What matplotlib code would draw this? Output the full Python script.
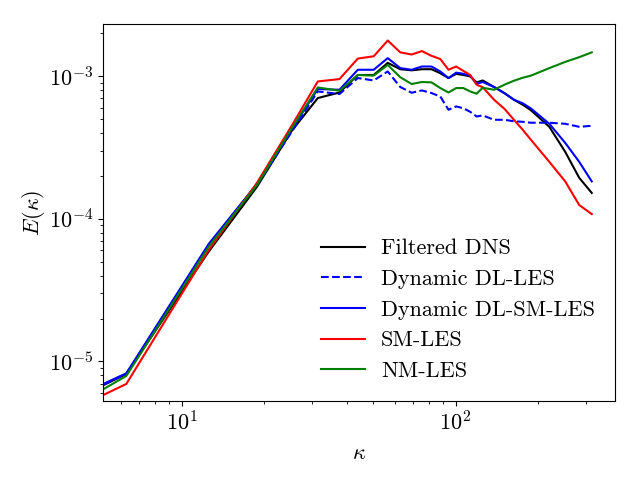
import numpy as np
import matplotlib
matplotlib.use("Agg")
import matplotlib.pyplot as plt

plt.rcParams['font.family'] = 'serif'
plt.rcParams['font.serif'] = ['cmr10']
plt.rcParams['mathtext.fontset'] = 'cm'
plt.rcParams['axes.formatter.use_mathtext'] = True
plt.rcParams['font.size'] = 16

# wavenumbers: first point, then 2*pi*n
n_index = [0.5, 1, 2, 3, 4, 5, 6, 7, 8, 9, 10, 11, 12, 13, 14, 15, 16, 17, 18, 19, 20,
           22, 24, 26, 28, 30, 35, 40, 45, 50]
kappa = [2 * np.pi * n for n in n_index]

filtered_dns = [4.26e-6, 8.17e-6, 5.90e-5, 1.68e-4, 4.10e-4, 7.03e-4, 7.69e-4, 1.02e-3, 1.02e-3,
                1.24e-3, 1.12e-3, 1.10e-3, 1.12e-3, 1.12e-3, 1.05e-3, 9.71e-4, 1.04e-3, 1.02e-3,
                9.97e-4, 9.05e-4, 9.34e-4, 8.40e-4, 7.62e-4, 6.84e-4, 6.31e-4, 5.77e-4, 4.42e-4,
                2.95e-4, 1.94e-4, 1.52e-4]
dyn_dl_les = [4.40e-6, 8.17e-6, 6.57e-5, 1.73e-4, 4.03e-4, 7.82e-4, 7.50e-4, 9.71e-4, 9.34e-4,
              1.08e-3, 8.40e-4, 7.66e-4, 7.95e-4, 7.62e-4, 7.21e-4, 5.82e-4, 6.14e-4, 5.96e-4,
              5.63e-4, 5.22e-4, 5.31e-4, 4.95e-4, 4.95e-4, 4.83e-4, 4.79e-4, 4.72e-4, 4.72e-4,
              4.64e-4, 4.42e-4, 4.49e-4]
dyn_dl_sm_les = [4.46e-6, 8.26e-6, 6.68e-5, 1.76e-4, 4.21e-4, 8.13e-4, 8.04e-4, 1.11e-3, 1.11e-3,
                 1.34e-3, 1.14e-3, 1.11e-3, 1.17e-3, 1.17e-3, 1.08e-3, 9.71e-4, 1.06e-3, 1.04e-3,
                 1.01e-3, 8.86e-4, 9.11e-4, 8.40e-4, 7.60e-4, 6.84e-4, 6.46e-4, 5.94e-4, 4.64e-4,
                 3.41e-4, 2.51e-4, 1.83e-4]
sm_les = [3.68e-6, 6.95e-6, 6.06e-5, 1.79e-4, 4.44e-4, 9.19e-4, 9.55e-4, 1.33e-3, 1.38e-3,
          1.78e-3, 1.47e-3, 1.42e-3, 1.50e-3, 1.39e-3, 1.32e-3, 1.11e-3, 1.17e-3, 1.09e-3,
          1.02e-3, 8.72e-4, 8.37e-4, 6.84e-4, 5.91e-4, 4.95e-4, 4.21e-4, 3.58e-4, 2.51e-4,
          1.83e-4, 1.25e-4, 1.08e-4]
nm_les = [3.67e-6, 7.91e-6, 6.39e-5, 1.73e-4, 4.26e-4, 8.34e-4, 7.91e-4, 1.02e-3, 1.01e-3,
          1.20e-3, 9.84e-4, 8.82e-4, 9.11e-4, 9.05e-4, 8.26e-4, 7.69e-4, 8.26e-4, 8.26e-4,
          7.82e-4, 7.54e-4, 8.30e-4, 8.04e-4, 8.72e-4, 9.30e-4, 9.76e-4, 1.01e-3, 1.14e-3,
          1.26e-3, 1.36e-3, 1.47e-3]

fig, ax = plt.subplots(figsize=(6.4, 4.8), dpi=100)
lw = 1.5
ax.loglog(kappa, filtered_dns, color='black', lw=lw, label='Filtered DNS')
ax.loglog(kappa, dyn_dl_les, color='blue', ls='--', lw=lw, label='Dynamic DL-LES')
ax.loglog(kappa, dyn_dl_sm_les, color='blue', lw=lw, label='Dynamic DL-SM-LES')
ax.loglog(kappa, sm_les, color='red', lw=lw, label='SM-LES')
ax.loglog(kappa, nm_les, color='green', lw=lw, label='NM-LES')

ax.set_xlim(5.167, 382.1)
ax.set_ylim(5.28e-6, 2.324e-3)
ax.set_xlabel(r'$\kappa$', labelpad=6)
ax.set_ylabel(r'$E(\kappa)$', labelpad=1)
ax.legend(loc='lower right', frameon=False, handletextpad=0.7)

fig.subplots_adjust(left=0.161, right=0.961, top=0.95, bottom=0.1646)
fig.savefig('out.png', dpi=100)
